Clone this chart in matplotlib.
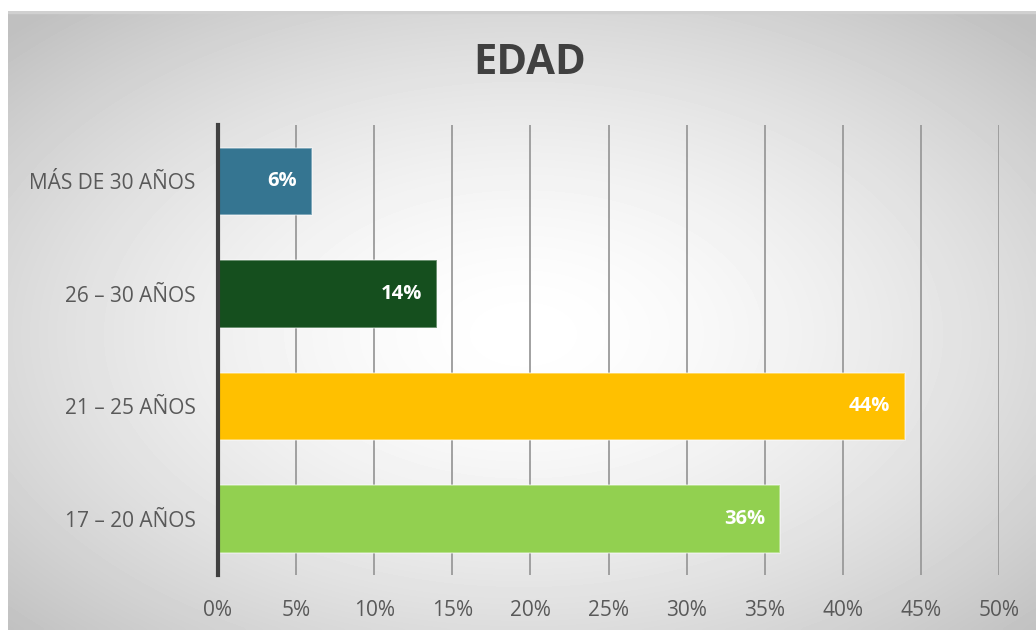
import numpy as np
import matplotlib.pyplot as plt
from matplotlib.patches import Rectangle

# datos
categorias = ["17 – 20 AÑOS", "21 – 25 AÑOS", "26 – 30 AÑOS", "MÁS DE 30 AÑOS"]
valores = [36, 44, 14, 6]
colores = ["#92D050", "#FFC000", "#154F1E", "#357591"]
ticks = [0, 5, 10, 15, 20, 25, 30, 35, 40, 45, 50]

plt.rcParams['font.family'] = ['Open Sans', 'DejaVu Sans']

W, H = 1036, 630
fig = plt.figure(figsize=(W / 100, H / 100), dpi=100)

# fondo con degradado radial
bg = fig.add_axes([8 / W, 0, 1 - 8 / W, 1 - 11 / H], zorder=-2)
yy, xx = np.mgrid[0:200, 0:330]
cx, cy = 330 * 0.50, 200 * 0.52
r = np.sqrt(((xx - cx) / 330) ** 2 + ((yy - cy) / 200) ** 2) / 0.70
grad = np.clip(1.0 - 0.25 * np.clip(r, 0, 1) ** 1.6, 0, 1)
bg.imshow(grad, cmap='gray', vmin=0, vmax=1, aspect='auto',
          extent=[0, 1, 0, 1], interpolation='bicubic')
bg.add_patch(Rectangle((0, 0.997), 1, 0.003, color="#d0d0d0",
                       transform=bg.transAxes))
bg.axis('off')

ax = fig.add_axes([218 / W, 55 / H, (999 - 218) / W, 450 / H])
ax.patch.set_alpha(0)

y = np.arange(len(categorias))
ax.barh(y, valores, height=0.6, color=colores,
        edgecolor=(1, 1, 1, 0.45), linewidth=1.2, zorder=3)

for yi, v in zip(y, valores):
    ax.text(v - 0.95, yi, f"{v}%", ha='right', va='center', color='white',
            fontsize=14.5, fontweight='bold', zorder=4)

ax.set_xlim(0, 50)
ax.set_ylim(-0.5, len(categorias) - 0.5)
ax.set_xticks(ticks)
ax.set_xticklabels([f"{t}%" for t in ticks], fontsize=15, color="#595959")
ax.set_yticks(y)
ax.set_yticklabels(categorias, fontsize=15, color="#595959")
ax.tick_params(axis='x', length=0, pad=18)
ax.tick_params(axis='y', length=0, pad=16)

ax.grid(axis='x', color="#9a9a9a", linewidth=1.3, zorder=0)
ax.set_axisbelow(True)
for s in ['top', 'right', 'bottom']:
    ax.spines[s].set_visible(False)
ax.spines['left'].set_color("#404040")
ax.spines['left'].set_linewidth(3)
ax.spines['left'].set_zorder(5)

fig.text(530 / W, 1 - 63 / H, "EDAD", ha='center', va='center',
         fontsize=30, fontweight='bold', color="#404040")

fig.savefig("out.png", dpi=100)
